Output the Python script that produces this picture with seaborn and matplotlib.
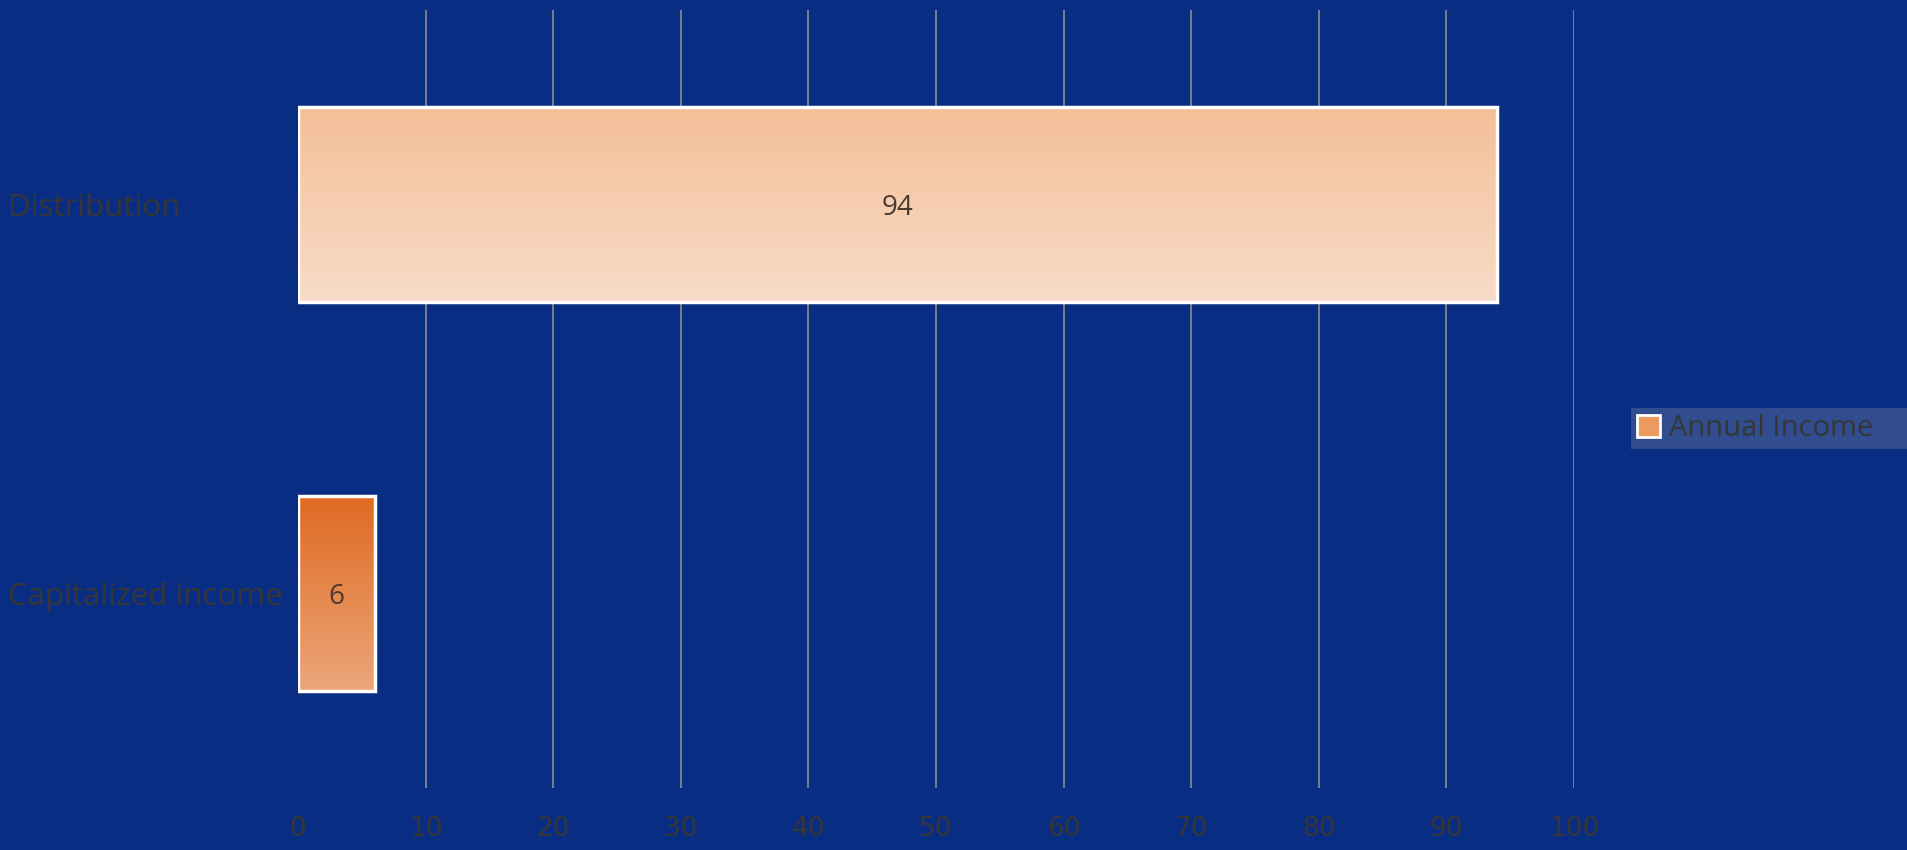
import numpy as np
import matplotlib
matplotlib.use("Agg")
import matplotlib.pyplot as plt
from matplotlib.colors import to_rgb
from matplotlib.patches import Patch
import seaborn as sns

categories = ["Distribution", "Capitalized income"]
values = [94, 6]
series_name = "Annual Income"
x_ticks = [0, 10, 20, 30, 40, 50, 60, 70, 80, 90, 100]

bg = "#0a2d84"
text_col = "#363636"
grad_top = ["#f4bf98", "#df6a22"]
grad_bottom = ["#f8dcc8", "#eca67a"]

sns.set_theme(style="white")
plt.rcParams["font.family"] = ["Open Sans", "DejaVu Sans"]

fig = plt.figure(figsize=(19.08, 8.5), dpi=100)
fig.patch.set_facecolor(bg)
ax = fig.add_axes([298 / 1908, 62 / 850, 1276 / 1908, 778 / 850])
ax.set_facecolor(bg)

sns.barplot(x=values, y=categories, orient="h", width=0.5, ax=ax,
            color="#f0b080", edgecolor="white", linewidth=2.5, zorder=3)

ax.set_xlim(0, 100)
ax.set_ylim(1.5, -0.5)

# gradient fill inside each bar
for i, p in enumerate(ax.patches):
    x0, y0 = p.get_x(), p.get_y()
    w, h = p.get_width(), p.get_height()
    c1, c2 = np.array(to_rgb(grad_top[i])), np.array(to_rgb(grad_bottom[i]))
    t = np.linspace(0, 1, 100)[:, None, None]
    img = c1 * (1 - t) + c2 * t
    im = ax.imshow(img, extent=(x0, x0 + w, y0 + h, y0), origin="upper",
                   aspect="auto", zorder=2.5, interpolation="bilinear")
    im.set_clip_path(p)
    p.set_facecolor("none")
    ax.text(x0 + w / 2, y0 + h / 2 + 0.01, f"{values[i]}", ha="center", va="center",
            fontsize=20, color="#4a3a30", zorder=4)

ax.set_xlim(0, 100)
ax.set_ylim(1.5, -0.5)

ax.set_xticks(x_ticks)
ax.set_xticklabels([str(v) for v in x_ticks],
                   family=["Liberation Sans Narrow", "DejaVu Sans Condensed", "DejaVu Sans"])
ax.grid(axis="x", color="#8c8c8c", linewidth=1.2, zorder=0)
ax.grid(axis="y", visible=False)
ax.get_xgridlines()[0].set_visible(False)
ax.set_axisbelow(True)
for s in ax.spines.values():
    s.set_visible(False)

ax.tick_params(axis="x", length=0, pad=20, labelsize=19, labelcolor=text_col)
ax.tick_params(axis="y", length=0, pad=290 * 72 / 100, labelsize=22.5, labelcolor=text_col)
for lab in ax.get_yticklabels():
    lab.set_horizontalalignment("left")
ax.set_xlabel("")
ax.set_ylabel("")

handle = Patch(facecolor="#eb9a60", edgecolor="white", linewidth=2)
leg = fig.legend([handle], [series_name], loc="center left", mode="expand",
                 bbox_to_anchor=(1631 / 1908, (850 - 449) / 850, 277 / 1908, 41 / 850),
                 frameon=True, fontsize=21, labelcolor=text_col,
                 handlelength=0.8, handleheight=0.8, handletextpad=0.3,
                 borderpad=0.2, borderaxespad=0)
leg.get_frame().set_facecolor("#3d5692")
leg.get_frame().set_edgecolor("none")
leg.get_frame().set_boxstyle("square", pad=0)

fig.savefig("out.png", dpi=100, facecolor=bg)
